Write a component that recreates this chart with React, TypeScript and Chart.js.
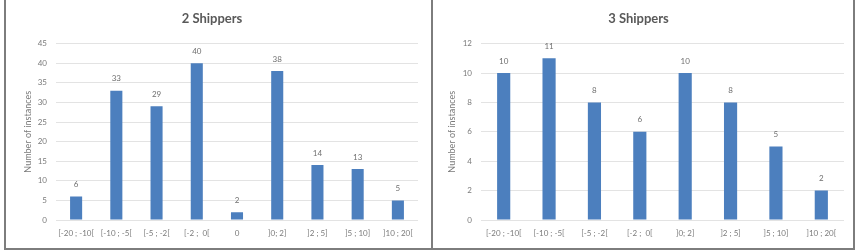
import React, { useEffect, useRef } from "react";
import { Chart, registerables } from "chart.js";

Chart.register(...registerables);

const labels2 = ["[-20 ; -10[", "[-10 ; -5[", "[-5 ; -2[", "[-2 ;  0[", "0", "]0; 2]", "]2 ; 5]", "]5 ; 10]", "]10 ; 20["];
const values2 = [6, 33, 29, 40, 2, 38, 14, 13, 5];
const labels3 = ["[-20 ; -10[", "[-10 ; -5[", "[-5 ; -2[", "[-2 ;  0[", "]0; 2]", "]2 ; 5]", "]5 ; 10]", "]10 ; 20["];
const values3 = [10, 11, 8, 6, 10, 8, 5, 2];
const yMax2 = 45;
const yStep2 = 5;
const yMax3 = 12;
const yStep3 = 2;

const FONT = "Lato, 'Open Sans', sans-serif";
const BAR = "#4c7fbe";

const valueLabels = {
  id: "valueLabels",
  afterDatasetsDraw(chart: any) {
    const ctx = chart.ctx;
    const meta = chart.getDatasetMeta(0);
    const data = chart.data.datasets[0].data;
    ctx.save();
    ctx.font = `8px ${FONT}`;
    ctx.fillStyle = "#6f6f6f";
    ctx.textAlign = "center";
    ctx.textBaseline = "middle";
    meta.data.forEach((el: any, i: number) => {
      ctx.fillText(String(data[i]), el.x, el.y - 12);
    });
    ctx.restore();
  },
};

function Box(props: { left: number; width: number; children: any }) {
  return (
    <div
      style={{
        position: "absolute",
        left: props.left,
        top: -2,
        width: props.width,
        height: 252,
        boxSizing: "border-box",
        border: "2px solid #7d7d7d",
        background: "#fff",
        overflow: "hidden",
      }}
    >
      {props.children}
    </div>
  );
}

function PanelSized(props: any) {
  const ref = useRef<HTMLCanvasElement>(null);
  useEffect(() => {
    const chart = new Chart(ref.current!, {
      type: "bar",
      data: {
        labels: props.labels,
        datasets: [
          {
            data: props.values,
            backgroundColor: BAR,
            barPercentage: props.barPct,
            categoryPercentage: 1,
          },
        ],
      },
      options: {
        animation: false,
        responsive: false,
        layout: { padding: { left: 0, right: props.padRight, top: 0, bottom: 0 } },
        plugins: {
          legend: { display: false },
          tooltip: { enabled: false },
          title: {
            display: true,
            text: props.title,
            color: "#595959",
            font: { family: FONT, size: 13, weight: "bold" },
            padding: { top: 11, bottom: 17 },
          },
        },
        scales: {
          x: {
            grid: { display: false, drawTicks: false },
            border: { display: false },
            ticks: {
              color: "#7a7a7a",
              font: { family: FONT, size: 8 },
              padding: 9,
              maxRotation: 0,
              autoSkip: false,
            },
            afterFit: (s: any) => {
              s.height = 28;
            },
          },
          y: {
            min: 0,
            max: props.max,
            ticks: {
              stepSize: props.step,
              color: "#7a7a7a",
              font: { family: FONT, size: 8 },
              padding: 9,
            },
            grid: { color: "#e3e3e3", drawTicks: false },
            border: { display: false },
            title: {
              display: true,
              text: "Number of instances",
              color: "#7a7a7a",
              font: { family: FONT, size: 9 },
              padding: { top: props.titleOffset, bottom: 0 },
            },
            afterFit: (s: any) => {
              s.width = props.yWidth;
            },
          },
        },
      },
      plugins: [valueLabels],
    } as any);
    return () => chart.destroy();
  }, []);
  return <canvas ref={ref} width={props.w} height={248} style={{ display: "block" }} />;
}

export default function App() {
  return (
    <div style={{ position: "fixed", left: 0, top: 0, width: 859, height: 251, background: "#fff", overflow: "hidden" }}>
      <Box left={4} width={429}>
        <PanelSized w={425} title="2 Shippers" labels={labels2} values={values2} max={yMax2} step={yStep2} yWidth={50} padRight={13} barPct={0.3} titleOffset={17} />
      </Box>
      <Box left={431} width={424}>
        <PanelSized w={420} title="3 Shippers" labels={labels3} values={values3} max={yMax3} step={yStep3} yWidth={48} padRight={9} barPct={0.29} titleOffset={14} />
      </Box>
    </div>
  );
}
